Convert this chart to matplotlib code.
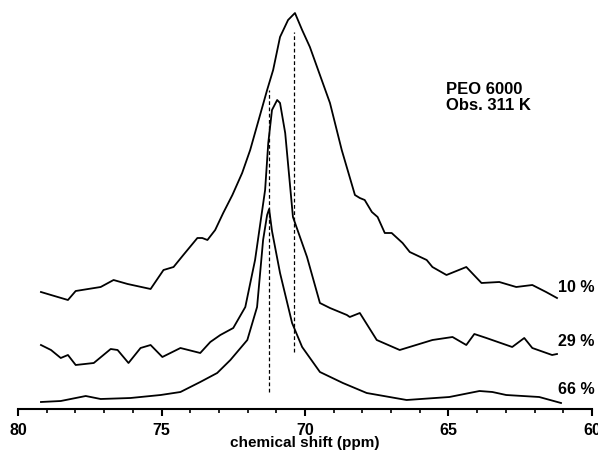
import numpy as np
import matplotlib.pyplot as plt

# traces: chemical shift (ppm) and intensity (arb. units)
ppm_10 = [79.20, 78.85, 78.26, 77.99, 77.12, 76.67, 76.18, 75.38, 74.93, 74.58,
          74.24, 73.75, 73.58, 73.40, 73.13, 72.85, 72.53, 72.19, 71.91, 71.32,
          71.11, 70.87, 70.59, 70.35, 70.10, 69.83, 69.13, 68.72, 68.26, 68.09,
          67.92, 67.67, 67.47, 67.22, 66.98, 66.60, 66.35, 65.76, 65.56, 65.07,
          64.38, 63.85, 63.23, 62.64, 62.08, 61.60, 61.22]
int_10 = [119, 116, 111, 120, 124, 131, 127, 122, 141, 144,
          156, 173, 173, 171, 181, 198, 216, 238, 261, 321,
          341, 374, 391, 398, 381, 364, 308, 261, 216, 213,
          211, 199, 194, 178, 178, 168, 159, 151, 144, 136,
          144, 128, 129, 124, 126, 119, 113]

ppm_29 = [79.20, 78.85, 78.51, 78.26, 77.99, 77.36, 76.77, 76.53, 76.15, 75.73,
          75.38, 74.97, 74.34, 73.65, 73.30, 72.95, 72.50, 72.08, 71.74, 71.39,
          71.28, 71.15, 70.97, 70.87, 70.69, 70.42, 69.93, 69.48, 69.13, 68.54,
          68.44, 68.09, 67.50, 66.70, 65.56, 64.86, 64.38, 64.10, 63.68, 62.78,
          62.36, 62.08, 61.39, 61.22]
int_29 = [66, 61, 53, 56, 46, 48, 62, 61, 48, 63,
          66, 54, 63, 58, 69, 76, 83, 104, 151, 221,
          268, 301, 311, 308, 278, 194, 154, 108, 103, 96,
          94, 98, 71, 61, 71, 74, 66, 77, 73, 64,
          73, 63, 56, 57]

ppm_66 = [79.20, 78.51, 77.64, 77.12, 76.08, 75.03, 74.34, 73.65, 73.06, 72.60,
          72.01, 71.67, 71.46, 71.32, 71.25, 71.15, 70.87, 70.45, 70.10, 69.48,
          68.68, 67.85, 66.46, 64.97, 63.92, 63.47, 62.99, 61.84, 61.08]
int_66 = [9, 10, 15, 12, 13, 16, 19, 29, 38, 51,
          71, 104, 171, 196, 202, 180, 138, 88, 64, 39,
          28, 18, 11, 14, 20, 19, 16, 14, 8]

# peak markers (ppm, bottom, top)
marks_ppm = [71.25, 70.38]
marks_lo = [19, 59]
marks_hi = [321, 379]

labels = ['10 %', '29 %', '66 %']
label_y = [123.5, 70, 21]

plt.rcParams['font.family'] = 'Liberation Sans'
plt.rcParams['font.weight'] = 'bold'

fig = plt.figure(figsize=(5.98, 4.55), dpi=100)
ax = fig.add_axes([18/598, 46/455, 574/598, 409/455])

for p, i in [(ppm_10, int_10), (ppm_29, int_29), (ppm_66, int_66)]:
    ax.plot(p, i, color='black', lw=1.3)

for x, lo, hi in zip(marks_ppm, marks_lo, marks_hi):
    ax.plot([x, x], [lo, hi], color='black', lw=0.9, ls=(0, (3, 2)))

for lab, y in zip(labels, label_y):
    ax.text(61.2, y, lab, fontsize=11.5, fontweight='bold', ha='left', va='center')

ax.text(65.07, 322, 'PEO 6000', fontsize=12, fontweight='bold', va='center')
ax.text(65.07, 305.5, 'Obs. 311 K', fontsize=12, fontweight='bold', va='center')

ax.set_xlim(80, 60)
ax.set_ylim(2, 411)
for s in ['left', 'right', 'top']:
    ax.spines[s].set_visible(False)
ax.spines['bottom'].set_linewidth(1.5)
ax.set_yticks([])
ax.set_xticks([80, 75, 70, 65, 60])
ax.set_xticks(np.arange(60, 81, 1), minor=True)
ax.tick_params(axis='x', which='major', length=5, width=1.5, labelsize=11.5, pad=5)
ax.tick_params(axis='x', which='minor', length=3, width=1.2)
for t in ax.get_xticklabels():
    t.set_fontweight('bold')
ax.set_xlabel('chemical shift (ppm)', fontsize=11, fontweight='bold', labelpad=-1)
ax.patch.set_visible(False)

fig.savefig('out.png', dpi=100)
